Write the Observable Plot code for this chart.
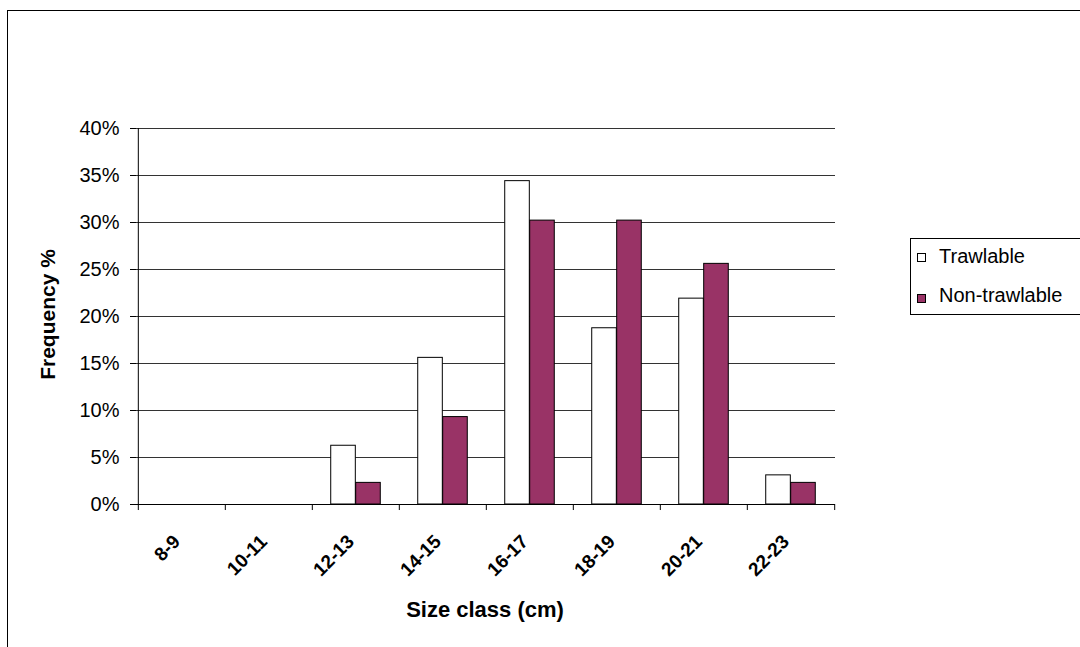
<!DOCTYPE html>
<html>
<head>
<meta charset="utf-8">
<script src="https://cdn.jsdelivr.net/npm/d3@7"></script>
<script src="https://cdn.jsdelivr.net/npm/@observablehq/plot@0.6"></script>
<style>
  html, body { margin: 0; padding: 0; background: #fff; overflow: hidden; width: 1080px; height: 647px; }
  #wrap { position: relative; width: 1080px; height: 647px; overflow: hidden; font-family: "Liberation Sans", Arial, sans-serif; }
  #frame { position: absolute; left: 7px; top: 10px; width: 1200px; height: 800px; border: 1px solid #000; box-sizing: border-box; }
  #chart { position: absolute; left: 0; top: 0; }
  #legend { position: absolute; left: 910px; top: 238px; width: 200px; height: 77px; border: 1px solid #000; background: #fff; box-sizing: border-box; }
  .lbl { position: absolute; left: 28px; font-size: 20px; line-height: 20px; color: #000; white-space: nowrap; }
  .sw { position: absolute; left: 6px; width: 9px; height: 9px; border: 1px solid #000; box-sizing: border-box; }
</style>
</head>
<body>
<div id="wrap">
  <div id="frame"></div>
  <div id="chart"></div>
  <div id="legend"></div>
</div>
<script>
const categories = ["8-9", "10-11", "12-13", "14-15", "16-17", "18-19", "20-21", "22-23"];
const trawlable = [0, 0, 6.25, 15.6, 34.4, 18.75, 21.9, 3.1];
const nonTrawlable = [0, 0, 2.3, 9.3, 30.2, 30.2, 25.6, 2.3];
const seriesNames = ["Trawlable", "Non-trawlable"];
const seriesColors = ["#ffffff", "#993366"];
const yTicks = [0, 5, 10, 15, 20, 25, 30, 35, 40];

const rowsT = categories.map((c, i) => ({cat: c, v: trawlable[i] / 100}));
const rowsN = categories.map((c, i) => ({cat: c, v: nonTrawlable[i] / 100}));
const nz = r => r.v > 0;

const W = 1080, H = 647;
const mL = 136, mR = 245, mT = 128, mB = 143;
const band = (W - mL - mR) / categories.length;
const barW = band * 25 / 87.5;
const inset = (band - barW) / 2;

const chart = Plot.plot({
  width: W, height: H,
  marginLeft: mL, marginRight: mR, marginTop: mT, marginBottom: mB,
  style: {fontFamily: "'Liberation Sans', Arial, sans-serif", fontSize: "20px", color: "#000", background: "transparent"},
  x: {type: "band", domain: categories, padding: 0, axis: null},
  y: {domain: [0, 0.4], axis: null},
  marks: [
    Plot.gridY(yTicks.map(d => d / 100), {stroke: "#333", strokeOpacity: 1, strokeWidth: 1}),
    Plot.barY(rowsT.filter(nz), {x: "cat", y: "v", fill: seriesColors[0], stroke: "#000", strokeWidth: 1, insetLeft: inset, insetRight: inset, dx: -barW / 2}),
    Plot.barY(rowsN.filter(nz), {x: "cat", y: "v", fill: seriesColors[1], stroke: "#000", strokeWidth: 1, insetLeft: inset, insetRight: inset, dx: barW / 2}),
    Plot.ruleY([0], {stroke: "#000", strokeWidth: 1}),
    Plot.ruleX([categories[0]], {stroke: "#000", strokeWidth: 1, dx: -band / 2}),
    Plot.ruleX(categories, {stroke: "#000", strokeWidth: 1, dx: -band / 2, y1: 0, y2: -0.0064}),
    Plot.ruleX([categories[categories.length - 1]], {stroke: "#000", strokeWidth: 1, dx: band / 2, y1: 0, y2: -0.0064}),
    Plot.axisY(yTicks.map(d => d / 100), {tickSize: 6, tickPadding: 11, tickFormat: d => Math.round(d * 100) + "%", label: null, fontSize: 20, stroke: "#000", strokeWidth: 1}),
    Plot.text(categories, {x: d => d, y: 0, text: d => d, rotate: -45, textAnchor: "end", lineAnchor: "middle", dx: -5, dy: 34, fontWeight: "bold", fontSize: 19, fill: "#000"}),
    Plot.text(["Frequency %"], {frameAnchor: "left", text: d => d, rotate: -90, textAnchor: "middle", lineAnchor: "middle", dx: -88, dy: -2, fontWeight: "bold", fontSize: 21, fill: "#000"}),
    Plot.text(["Size class (cm)"], {frameAnchor: "bottom", text: d => d, textAnchor: "middle", lineAnchor: "middle", dx: -1, dy: 105.5, fontWeight: "bold", fontSize: 22, fill: "#000"})
  ]
});
document.getElementById("chart").appendChild(chart);

const legend = document.getElementById("legend");
const swTops = [14, 55];
const lblTops = [7.4, 45.8];
seriesNames.forEach((name, i) => {
  const sw = document.createElement("div");
  sw.className = "sw";
  sw.style.top = swTops[i] + "px";
  sw.style.background = seriesColors[i];
  legend.appendChild(sw);
  const t = document.createElement("div");
  t.className = "lbl";
  t.style.top = lblTops[i] + "px";
  t.textContent = name;
  legend.appendChild(t);
});
</script>
</body>
</html>
